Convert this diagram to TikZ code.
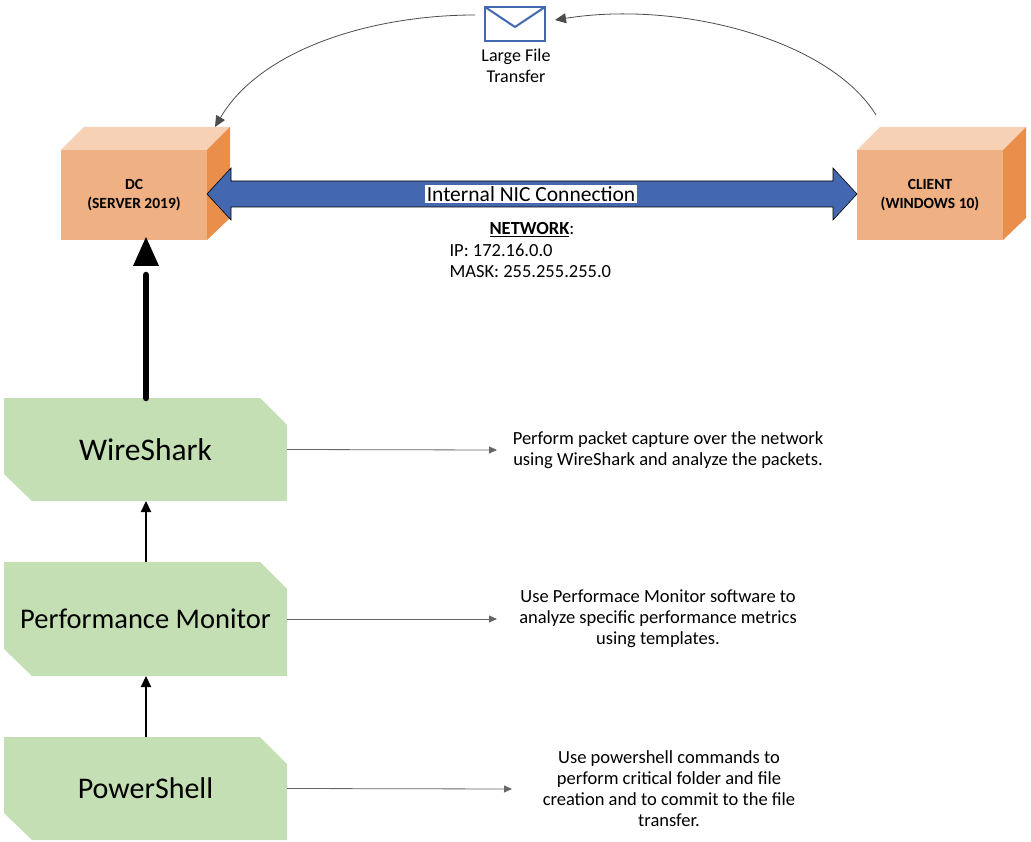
\documentclass[tikz,border=0pt]{standalone}
\usepackage{fontspec}
\setmainfont{Carlito}
\usetikzlibrary{arrows.meta}
\definecolor{gfill}{HTML}{C5DFB4}
\definecolor{ofront}{HTML}{EFB083}
\definecolor{otop}{HTML}{F6D1B5}
\definecolor{oside}{HTML}{E98F4B}
\definecolor{nblue}{HTML}{4468B0}
\tikzset{
 desc/.style={align=center,font=\fontsize{18.5}{21}\selectfont},
 conn/.style={draw=gray!80!black,line width=0.8pt,-{Triangle[length=8pt,width=7pt]}},
 up/.style={line width=2.2pt,-{Triangle[length=11pt,width=10pt]}},
}
\newcommand{\greenbox}[5]{% name, top y, bottom y, text, size
 \fill[gfill] (4,-#2) -- (260,-#2) -- (287,-#2-27) -- (287,-#3) -- (32,-#3) -- (4,-#3+27) -- cycle;
 \node[font=\fontsize{#5}{32}\selectfont] (#1) at (145.5,-#2/2-#3/2) {#4};
 \coordinate (#1-r) at (287,-#2/2-#3/2);
 \coordinate (#1-t) at (146,-#2);
 \coordinate (#1-b) at (146,-#3);
}
\newcommand{\cube}[3]{% name, left x, text
 \fill[ofront] (#2,-150) rectangle ++(146,-90);
 \fill[otop] (#2,-150) -- ++(23,-23+46) -- ++(146,0) -- ++(-23,-23) -- cycle;
 \fill[oside] (#2+146,-150) -- ++(23,23) -- ++(0,-91) -- ++(-23,-22) -- cycle;
 \node[align=center,font=\bfseries\fontsize{15.5}{19}\selectfont] (#1) at (#2+73,-195) {#3};
}
\begin{document}
\begin{tikzpicture}[x=1pt,y=1pt]
\useasboundingbox (0,0) rectangle (1031,-842);
\cube{dc}{61}{DC\\(SERVER 2019)}
\cube{cl}{857}{CLIENT\\(WINDOWS 10)}
% double arrow
\draw[fill=nblue,line width=0.6pt] (207,-194) -- (231,-168) -- (231,-181) -- (833,-181) -- (833,-168) -- (857,-194) -- (833,-220) -- (833,-207) -- (231,-207) -- (231,-220) -- cycle;
\node[fill=white,inner sep=1.5pt,font=\fontsize{21.5}{25}\selectfont] (nic) at (531,-194) {Internal NIC Connection};
\node[anchor=north west,align=left,font=\fontsize{18.5}{21.5}\selectfont] (net) at (446,-219) {\hspace*{40pt}\textbf{\underline{NETWORK}}:\\IP: 172.16.0.0\\MASK: 255.255.255.0};
% envelope
\draw[nblue,line width=2pt,fill=white] (485,-7) rectangle (545,-41);
\draw[nblue,line width=2pt] (485,-7) -- (515,-27) -- (545,-7);
\coordinate (env) at (515,-24);
\node[align=center,font=\fontsize{18}{21}\selectfont] (lft) at (516,-66) {Large File\\Transfer};
\coordinate (clt) at (876,-115);
\coordinate (dct) at (215,-127);
\draw[gray!60!black,line width=0.8pt,-{Triangle[length=11pt,width=10pt]}] (clt) .. controls (830,-40) and (680,0) .. (555,-20);
\draw[gray!60!black,line width=0.8pt,-{Triangle[length=11pt,width=10pt]}] (475,-15) .. controls (370,-15) and (260,-50) .. (dct);
% green boxes
\greenbox{ws}{398}{501}{WireShark}{31.5}
\greenbox{pm}{562}{676}{Performance Monitor}{28.5}
\greenbox{ps}{737}{840}{PowerShell}{30}
\coordinate (dcb) at (146,-237);
\draw[line width=6.5pt,line cap=round] (ws-t) -- (146,-275);
\fill (dcb) -- (159,-266) -- (133,-266) -- cycle;
\draw[up] (pm-t) -- (ws-b);
\draw[up] (ps-t) -- (pm-b);
% descriptions
\node[desc] (d1) at (668,-450) {Perform packet capture over the network\\using WireShark and analyze the packets.};
\node[desc] (d2) at (658,-619) {Use Performace Monitor software to\\analyze specific performance metrics\\using templates.};
\node[desc] (d3) at (669,-789) {Use powershell commands to\\perform critical folder and file\\creation and to commit to the file\\transfer.};
\draw[conn] (ws-r) -- (497,-450);
\draw[conn] (pm-r) -- (497,-619);
\draw[conn] (ps-r) -- (512,-789);
\end{tikzpicture}
\end{document}
